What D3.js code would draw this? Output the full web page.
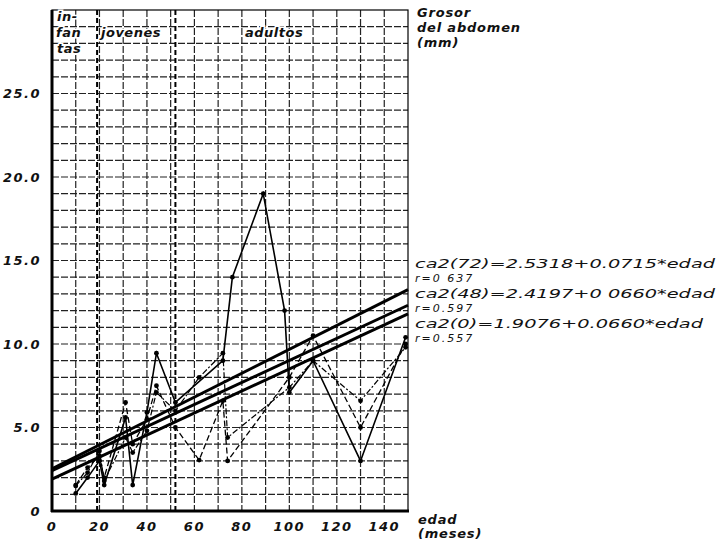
<!DOCTYPE html>
<html>
<head>
<meta charset="utf-8">
<script src="https://cdn.jsdelivr.net/npm/d3@7/dist/d3.min.js"></script>
<style>
  body { margin: 0; background: #fff; }
  text { font-family: "DejaVu Sans", sans-serif; font-style: italic; fill: #111; }
</style>
</head>
<body>
<svg id="chart" width="719" height="540"></svg>
<script>
// edad (meses) de cada grupo
const ages = [10, 15, 20, 22, 31, 34, 40, 44, 52, 62, 72, 74, 76, 89, 98, 100, 110, 130, 149];
// grosor medio del abdomen (mm) por serie
const serieA = [1.05, 2.0, 3.0, 1.55, 5.6, 1.55, 5.9, 9.45, 6.5, null, 9.0, null, 14.0, 19.0, 12.0, 7.1, 9.0, 3.0, 10.4];
const serieB = [1.55, 2.6, 3.3, 2.0, 6.5, 4.0, 5.5, 7.5, 5.0, 3.05, 6.6, 3.0, null, null, null, 8.0, 10.5, 5.0, 10.0];
const serieC = [1.5, 2.3, 3.6, 1.8, 4.4, 3.5, 4.8, 7.1, 6.0, 8.0, 9.45, 4.4, null, null, null, 7.4, 9.0, 6.6, 9.8];
const regresiones = [
  { a: 2.5318, b: 0.0715, label: "ca2(72)=2.5318+0.0715*edad", r: "r=0 637" },
  { a: 2.4197, b: 0.0660, label: "ca2(48)=2.4197+0 0660*edad", r: "r=0.597" },
  { a: 1.9076, b: 0.0660, label: "ca2(0)=1.9076+0.0660*edad",  r: "r=0.557" }
];
const xTicks = [0, 20, 40, 60, 80, 100, 120, 140];
const yTicks = [0, 5, 10, 15, 20, 25];
const etapas = [19, 52];

const svg = d3.select('#chart');
const x = d3.scaleLinear().domain([0, 150]).range([52, 408]);
const y = d3.scaleLinear().domain([0, 30]).range([511, 10]);

// grid
svg.append('g')
  .selectAll('line')
  .data(d3.range(10, 150, 10))
  .join('line')
  .attr('x1', d => x(d)).attr('x2', d => x(d))
  .attr('y1', y(30)).attr('y2', y(0))
  .attr('stroke', '#222').attr('stroke-width', 1.2)
  .attr('stroke-dasharray', '7,2');
svg.append('g')
  .selectAll('line')
  .data(d3.range(1, 30, 1))
  .join('line')
  .attr('x1', x(0)).attr('x2', x(150))
  .attr('y1', d => y(d)).attr('y2', d => y(d))
  .attr('stroke', '#222').attr('stroke-width', 1.2)
  .attr('stroke-dasharray', '7,2');

// etapas: infantes / jovenes / adultos
svg.append('g')
  .selectAll('line')
  .data(etapas)
  .join('line')
  .attr('x1', d => x(d)).attr('x2', d => x(d))
  .attr('y1', y(30)).attr('y2', y(0))
  .attr('stroke', '#000').attr('stroke-width', 2)
  .attr('stroke-dasharray', '5,3');

// frame
svg.append('rect')
  .attr('x', x(0)).attr('y', y(30))
  .attr('width', x(150) - x(0)).attr('height', y(0) - y(30))
  .attr('fill', 'none').attr('stroke', '#000').attr('stroke-width', 1.2);
svg.append('line')
  .attr('x1', x(0)).attr('x2', x(0)).attr('y1', y(30)).attr('y2', y(0) + 1)
  .attr('stroke', '#000').attr('stroke-width', 3);
svg.append('line')
  .attr('x1', x(0) - 1).attr('x2', x(150) + 1).attr('y1', y(0)).attr('y2', y(0))
  .attr('stroke', '#000').attr('stroke-width', 3);

// series
const series = [
  { vals: serieA, dash: null, w: 1.6 },
  { vals: serieB, dash: '6,3', w: 1.3 },
  { vals: serieC, dash: '6,2,2,2', w: 1.2 }
];
const line = d3.line()
  .x(d => x(d[0]))
  .y(d => y(d[1]));
series.forEach(s => {
  const pts = ages.map((a, i) => [a, s.vals[i]]).filter(p => p[1] != null);
  svg.append('path')
    .datum(pts)
    .attr('d', line)
    .attr('fill', 'none')
    .attr('stroke', '#000')
    .attr('stroke-width', s.w)
    .attr('stroke-dasharray', s.dash);
  svg.append('g')
    .selectAll('circle')
    .data(pts)
    .join('circle')
    .attr('cx', d => x(d[0]))
    .attr('cy', d => y(d[1]))
    .attr('r', 2.4)
    .attr('fill', '#000');
});

// regression lines
svg.append('g')
  .selectAll('line')
  .data(regresiones)
  .join('line')
  .attr('x1', x(0)).attr('x2', x(150))
  .attr('y1', d => y(d.a)).attr('y2', d => y(d.a + d.b * 150))
  .attr('stroke', '#000').attr('stroke-width', 3);

// ticks
svg.append('g')
  .selectAll('text')
  .data(yTicks)
  .join('text')
  .attr('x', 41).attr('y', d => y(d))
  .attr('dy', '0.35em')
  .attr('text-anchor', 'end')
  .attr('font-size', 13)
  .attr('letter-spacing', 1.5)
  .style('font-weight', 'bold')
  .text(d => d === 0 ? '0' : d.toFixed(1));
svg.append('g')
  .selectAll('text')
  .data(xTicks)
  .join('text')
  .attr('x', d => x(d)).attr('y', 531)
  .attr('text-anchor', 'middle')
  .attr('font-size', 13)
  .attr('letter-spacing', 1.5)
  .style('font-weight', 'bold')
  .text(d => d);

// stage labels
const etiquetas = [
  { t: 'in-', x: 57, y: 21 },
  { t: 'fan', x: 56, y: 37 },
  { t: 'tas', x: 57, y: 53 },
  { t: 'jovenes', x: 101, y: 37 },
  { t: 'adultos', x: 245, y: 37 }
];
svg.append('g')
  .selectAll('text')
  .data(etiquetas)
  .join('text')
  .attr('x', d => d.x).attr('y', d => d.y)
  .attr('font-size', 13)
  .attr('letter-spacing', 0.5)
  .attr('stroke', '#fff').attr('stroke-width', 3)
  .attr('paint-order', 'stroke')
  .style('font-weight', 'bold')
  .text(d => d.t);

// y axis title
['Grosor', 'del abdomen', '(mm)'].forEach((t, i) => {
  svg.append('text')
    .attr('x', 417).attr('y', 17 + i * 15)
    .attr('font-size', 13)
    .attr('letter-spacing', 0.8)
    .style('font-weight', 'bold')
    .text(t);
});
// x axis title
['edad', '(meses)'].forEach((t, i) => {
  svg.append('text')
    .attr('x', 418).attr('y', 524 + i * 14)
    .attr('font-size', 13)
    .attr('letter-spacing', 0.8)
    .style('font-weight', 'bold')
    .text(t);
});

// equations
const eqY = [268, 298, 328];
const eqLen = [300, 300, 288];
regresiones.forEach((d, i) => {
  svg.append('text')
    .attr('x', 415).attr('y', eqY[i])
    .attr('font-size', 11.5)
    .attr('textLength', eqLen[i])
    .attr('lengthAdjust', 'spacingAndGlyphs')
    .text(d.label);
  svg.append('text')
    .attr('x', 415).attr('y', eqY[i] + 14)
    .attr('font-size', 11)
    .attr('letter-spacing', 2)
    .text(d.r);
});
</script>
</body>
</html>
